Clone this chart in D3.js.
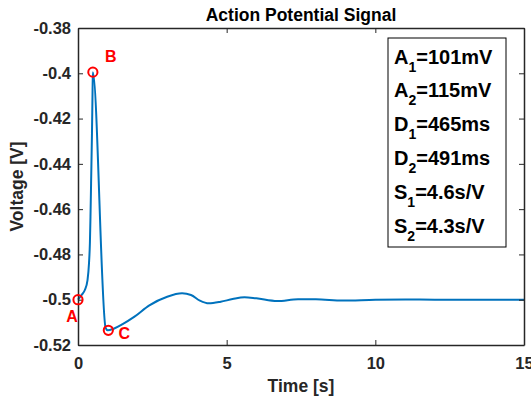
<!DOCTYPE html>
<html>
<head>
<meta charset="utf-8">
<script src="https://cdn.jsdelivr.net/npm/d3@7"></script>
<style>
  body { margin: 0; background: #fff; }
  svg { font-family: "Liberation Sans", Arial, sans-serif; font-weight: bold; }
</style>
</head>
<body>
<div id="chart"></div>
<script>
// Signal samples (time in s, voltage in V)
const timeValues = [0, 0.12, 0.23, 0.32, 0.37, 0.40, 0.42, 0.44, 0.47, 0.49, 0.50,
  0.93, 1.0, 1.2, 1.5, 1.9, 2.4, 3.0, 3.5, 3.8, 4.1, 4.4, 4.8, 5.2, 5.6, 6.0,
  6.7, 7.4, 8.0, 8.9, 10, 11, 12, 13, 14, 15];
const voltageValues = [-0.5, -0.4979, -0.4957, -0.4913, -0.4839, -0.4751, -0.4634, -0.4486, -0.4265, -0.4074, -0.3995,
  -0.5125, -0.5135, -0.5128, -0.5108, -0.5075, -0.5025, -0.4987, -0.4972, -0.4979, -0.5004, -0.5016, -0.5009, -0.4997, -0.4989, -0.4994,
  -0.5006, -0.4998, -0.4998, -0.5004, -0.5, -0.4999, -0.5, -0.5, -0.5, -0.5];

// Marked points A, B, C
const markNames = ["A", "B", "C"];
const markTimes = [0, 0.50, 1.02];
const markVoltages = [-0.5, -0.3995, -0.5135];

// Axis ticks
const xTicks = [0, 5, 10, 15];
const yTicks = [-0.52, -0.5, -0.48, -0.46, -0.44, -0.42, -0.4, -0.38];
const yTickLabels = ["-0.52", "-0.5", "-0.48", "-0.46", "-0.44", "-0.42", "-0.4", "-0.38"];

// Legend box text
const legendSymbols = ["A", "A", "D", "D", "S", "S"];
const legendSubs = ["1", "2", "1", "2", "1", "2"];
const legendValues = ["=101mV", "=115mV", "=465ms", "=491ms", "=4.6s/V", "=4.3s/V"];

const width = 531, height = 398;
const margin = { top: 28, right: 7, bottom: 53, left: 78 };
const axisColor = "#262626";

const svg = d3.select("#chart")
  .append("svg")
  .attr("width", width)
  .attr("height", height);

const x = d3.scaleLinear().domain([0, 15]).range([margin.left, width - margin.right]);
const y = d3.scaleLinear().domain([-0.52, -0.38]).range([height - margin.bottom, margin.top]);

// Curve
const points = timeValues.map((t, i) => [t, voltageValues[i]]);
const line = d3.line()
  .x(d => x(d[0]))
  .y(d => y(d[1]))
  .curve(d3.curveMonotoneX);

svg.append("path")
  .datum(points)
  .attr("d", line)
  .attr("fill", "none")
  .attr("stroke", "#0072BD")
  .attr("stroke-width", 2);

// Axes (inward ticks, full box)
function styleAxis(g) {
  g.selectAll("path.domain").attr("stroke", axisColor).attr("stroke-width", 1.5);
  g.selectAll(".tick line").attr("stroke", axisColor).attr("stroke-width", 1);
  g.selectAll(".tick text")
    .attr("fill", axisColor)
    .style("font-size", "16.5px")
    .style("font-weight", "bold")
    .style("font-family", '"Liberation Sans", Arial, sans-serif');
}

svg.append("g")
  .attr("transform", `translate(0,${y(-0.52)})`)
  .call(d3.axisBottom(x).tickValues(xTicks).tickSizeInner(-5).tickSizeOuter(0).tickPadding(12.5))
  .call(styleAxis);

svg.append("g")
  .attr("transform", `translate(0,${y(-0.38)})`)
  .call(d3.axisTop(x).tickValues(xTicks).tickSizeInner(-5).tickSizeOuter(0).tickFormat(""))
  .call(styleAxis);

svg.append("g")
  .attr("transform", `translate(${x(0)},0)`)
  .call(d3.axisLeft(y).tickValues(yTicks).tickSizeInner(-5).tickSizeOuter(0).tickPadding(7)
    .tickFormat((d, i) => yTickLabels[i]))
  .call(styleAxis);

svg.append("g")
  .attr("transform", `translate(${x(15)},0)`)
  .call(d3.axisRight(y).tickValues(yTicks).tickSizeInner(-5).tickSizeOuter(0).tickFormat(""))
  .call(styleAxis);

// Title and axis labels
svg.append("text")
  .attr("x", (x(0) + x(15)) / 2)
  .attr("y", 21)
  .attr("text-anchor", "middle")
  .attr("fill", "#000")
  .style("font-size", "17.5px")
  .text("Action Potential Signal");

svg.append("text")
  .attr("x", (x(0) + x(15)) / 2)
  .attr("y", 392)
  .attr("text-anchor", "middle")
  .attr("fill", axisColor)
  .style("font-size", "17.5px")
  .text("Time [s]");

svg.append("text")
  .attr("transform", `translate(23,${(y(-0.52) + y(-0.38)) / 2}) rotate(-90)`)
  .attr("text-anchor", "middle")
  .attr("fill", axisColor)
  .style("font-size", "17.5px")
  .text("Voltage [V]");

// Markers and their letters
const markLabelOffsets = { A: [-6, 22], B: [18, -10], C: [16, 9] };
const marks = markNames.map((n, i) => ({ name: n, t: markTimes[i], v: markVoltages[i] }));

svg.append("g")
  .selectAll("circle")
  .data(marks)
  .join("circle")
  .attr("cx", d => x(d.t))
  .attr("cy", d => y(d.v))
  .attr("r", 4.6)
  .attr("fill", "none")
  .attr("stroke", "#FF0000")
  .attr("stroke-width", 2);

svg.append("g")
  .selectAll("text")
  .data(marks)
  .join("text")
  .attr("x", d => x(d.t) + markLabelOffsets[d.name][0])
  .attr("y", d => y(d.v) + markLabelOffsets[d.name][1])
  .attr("text-anchor", "middle")
  .attr("fill", "#FF0000")
  .style("font-size", "16px")
  .text(d => d.name);

// Legend-style text box
const box = { x: 388, y: 38, w: 118, h: 209 };
svg.append("rect")
  .attr("x", box.x)
  .attr("y", box.y)
  .attr("width", box.w)
  .attr("height", box.h)
  .attr("fill", "#fff")
  .attr("stroke", "#000")
  .attr("stroke-width", 1);

const rows = svg.append("g")
  .selectAll("text")
  .data(legendSymbols)
  .join("text")
  .attr("x", box.x + 6)
  .attr("y", (d, i) => 63.5 + i * 33.8)
  .attr("fill", "#000")
  .style("font-size", "20px");

rows.append("tspan").text(d => d);
rows.append("tspan")
  .attr("dy", 8)
  .style("font-size", "14px")
  .text((d, i) => legendSubs[i]);
rows.append("tspan")
  .attr("dy", -8)
  .text((d, i) => legendValues[i]);
</script>
</body>
</html>
